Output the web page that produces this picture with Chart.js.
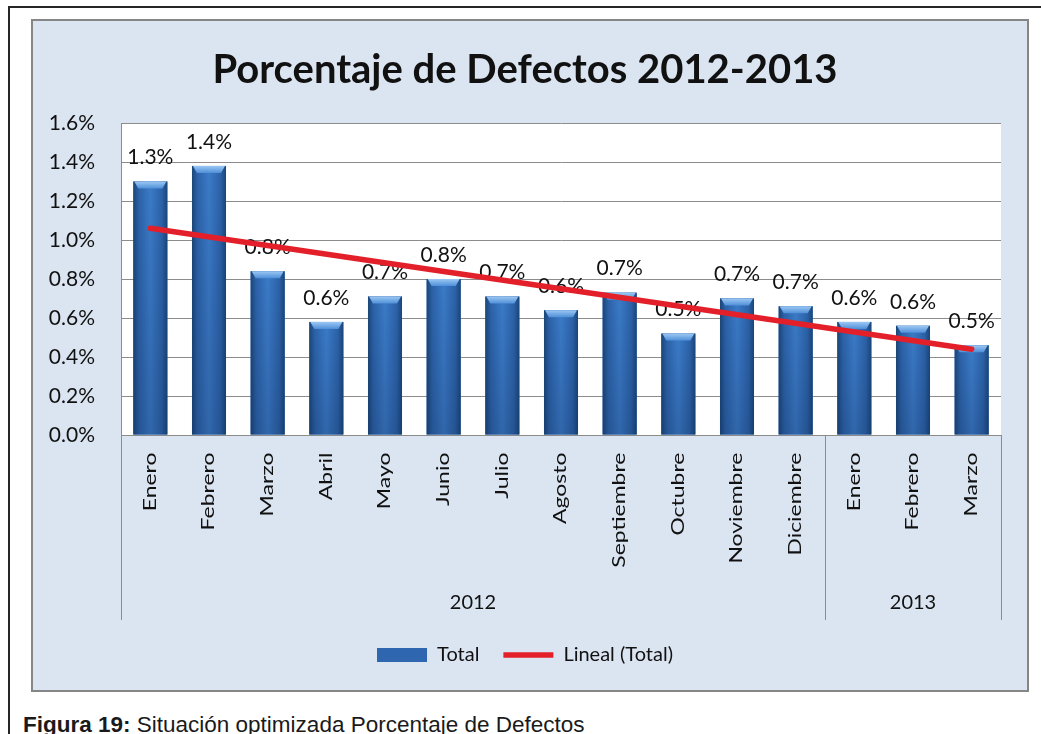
<!DOCTYPE html>
<html lang="es">
<head>
<meta charset="utf-8">
<title>Porcentaje de Defectos 2012-2013</title>
<script src="https://cdn.jsdelivr.net/npm/chart.js@4.4.1/dist/chart.umd.min.js"></script>
<style>
  html, body { margin: 0; padding: 0; background: #fff; }
  body { width: 1041px; height: 734px; position: relative; overflow: hidden; }
  .frame {
    position: absolute; left: 8px; top: 6px; width: 1100px; height: 800px;
    border-left: 2px solid #262626; border-top: 2px solid #262626;
  }
  .chart-box {
    position: absolute; left: 31px; top: 19px; width: 998px; height: 673px;
    box-sizing: border-box; border: 2px solid #868686; background: #dbe5f1;
  }
  .caption {
    position: absolute; left: 23px; top: 712px; line-height: 25px; color: #1a1a1a;
    font: 22.5px 'Liberation Sans', Arial, sans-serif; white-space: nowrap;
  }
</style>
</head>
<body>
<div class="frame"></div>
<div class="chart-box"><canvas id="defectos"></canvas></div>
<div class="caption"><b>Figura 19:</b> Situación optimizada Porcentaje de Defectos</div>

<script>
// Monthly defect percentage, Jan 2012 - Mar 2013
const months = ['Enero', 'Febrero', 'Marzo', 'Abril', 'Mayo', 'Junio', 'Julio', 'Agosto',
                'Septiembre', 'Octubre', 'Noviembre', 'Diciembre', 'Enero', 'Febrero', 'Marzo'];
const totals = [1.30, 1.38, 0.84, 0.58, 0.71, 0.80, 0.71, 0.64, 0.73, 0.52, 0.70, 0.66, 0.58, 0.56, 0.46];

// Year groups under the month labels
const yearLabels = ['2012', '2013'];
const yearSpans = [12, 3];

// Linear trend, value at first and last month
const trendEnds = [1.06, 0.44];

const yTicks = [0, 0.2, 0.4, 0.6, 0.8, 1.0, 1.2, 1.4, 1.6];

const trendData = months.map((m, i) =>
    i === 0 ? trendEnds[0] : (i === months.length - 1 ? trendEnds[1] : null));

const fmtPct = v => v.toFixed(1) + '%';

// White plot area on top of the blue chart background
const plotBackground = {
    id: 'plotBackground',
    beforeDraw(chart) {
        const { ctx, chartArea: a } = chart;
        ctx.save();
        ctx.fillStyle = '#ffffff';
        ctx.fillRect(a.left, a.top, a.right - a.left, a.bottom - a.top);
        ctx.restore();
    }
};

// Bevelled look for the bars, then their value labels (before the trend line is drawn)
const barShading = {
    id: 'barShading',
    afterDatasetDraw(chart, args) {
        if (args.index !== 0) return;
        const ctx = chart.ctx;
        const values = chart.data.datasets[0].data;
        args.meta.data.forEach((bar, i) => {
            const { x, y, base, width } = bar.getProps(['x', 'y', 'base', 'width'], true);
            const l = x - width / 2, r = x + width / 2;
            ctx.save();
            const g = ctx.createLinearGradient(l, 0, r, 0);
            g.addColorStop(0, '#1a4678');
            g.addColorStop(0.16, '#2c62a8');
            g.addColorStop(0.5, '#3b7bc8');
            g.addColorStop(0.84, '#2c62a8');
            g.addColorStop(1, '#1a4678');
            ctx.fillStyle = g;
            ctx.fillRect(l, y, width, base - y);

            const v = ctx.createLinearGradient(0, y, 0, base);
            v.addColorStop(0, 'rgba(10,30,70,0)');
            v.addColorStop(1, 'rgba(10,30,70,0.22)');
            ctx.fillStyle = v;
            ctx.fillRect(l, y, width, base - y);

            const cap = 7, inset = 5;
            ctx.beginPath();
            ctx.moveTo(l + 1, y);
            ctx.lineTo(r - 1, y);
            ctx.lineTo(r - inset, y + cap);
            ctx.lineTo(l + inset, y + cap);
            ctx.closePath();
            const c = ctx.createLinearGradient(0, y, 0, y + cap);
            c.addColorStop(0, '#9cc8f4');
            c.addColorStop(1, '#4f8fd8');
            ctx.fillStyle = c;
            ctx.fill();
            ctx.restore();
        });

        ctx.save();
        ctx.font = '21px Lato';
        ctx.fillStyle = '#111';
        ctx.textAlign = 'center';
        ctx.textBaseline = 'middle';
        args.meta.data.forEach((bar, i) => {
            const { x, y } = bar.getProps(['x', 'y'], true);
            ctx.fillText(fmtPct(values[i]), x, y - 24);
        });
        ctx.restore();
    }
};

// Month labels are drawn after the datasets (ticks z: 1); stretch them along their length
const tallMonths = {
    id: 'tallMonths',
    afterDatasetsDraw(chart) {
        const top = chart.scales.x.top;
        const ctx = chart.ctx;
        ctx.save();
        ctx.translate(0, top);
        ctx.scale(1, 1.35);
        ctx.translate(0, -top);
    },
    afterDraw(chart) {
        chart.ctx.restore();
    }
};

// Second category level: year names with separator lines
const yearGroups = {
    id: 'yearGroups',
    afterDraw(chart) {
        const xs = chart.scales.x;
        const ctx = chart.ctx;
        const top = xs.top, bottom = xs.top + 185;
        const edges = [xs.left];
        let idx = 0;
        yearSpans.forEach(n => {
            idx += n;
            edges.push(idx < months.length
                ? (xs.getPixelForValue(idx - 1) + xs.getPixelForValue(idx)) / 2
                : xs.right);
        });
        ctx.save();
        ctx.strokeStyle = '#8c8c8c';
        ctx.lineWidth = 1;
        edges.forEach(ex => {
            const px = Math.round(ex) + 0.5;
            ctx.beginPath();
            ctx.moveTo(px, top);
            ctx.lineTo(px, bottom);
            ctx.stroke();
        });
        ctx.font = '20px Lato';
        ctx.fillStyle = '#111';
        ctx.textAlign = 'center';
        ctx.textBaseline = 'middle';
        yearLabels.forEach((t, k) => ctx.fillText(t, (edges[k] + edges[k + 1]) / 2, top + 168));
        ctx.restore();
    }
};

Chart.defaults.font.family = 'Lato';
Chart.defaults.color = '#111';

new Chart(document.getElementById('defectos'), {
    data: {
        labels: months,
        datasets: [{
            type: 'bar',
            label: 'Total',
            data: totals,
            backgroundColor: '#2e67b0',
            borderColor: '#1b467f',
            borderWidth: 0,
            barPercentage: 0.58,
            categoryPercentage: 1,
            pointStyle: 'rect',
            order: 1
        }, {
            type: 'line',
            label: 'Lineal (Total)',
            data: trendData,
            borderColor: '#e3202a',
            backgroundColor: '#e3202a',
            borderWidth: 5.5,
            borderCapStyle: 'round',
            pointRadius: 0,
            pointStyle: 'line',
            spanGaps: true,
            fill: false,
            order: 0
        }]
    },
    options: {
        responsive: true,
        maintainAspectRatio: false,
        animation: false,
        layout: { padding: { left: 16, right: 26, top: 0, bottom: 15 } },
        plugins: {
            title: {
                display: true,
                text: 'Porcentaje de Defectos 2012-2013',
                color: '#111',
                font: { size: 40, weight: 'bold' },
                padding: { top: 25, bottom: 29 }
            },
            legend: {
                position: 'bottom',
                labels: {
                    usePointStyle: true,
                    pointStyleWidth: 50,
                    boxHeight: 14,
                    padding: 24,
                    color: '#111',
                    font: { size: 20 },
                    sort: (a, b) => a.datasetIndex - b.datasetIndex
                }
            },
            tooltip: { enabled: false }
        },
        scales: {
            x: {
                grid: { display: false },
                border: { display: true, color: '#8c8c8c' },
                ticks: {
                    autoSkip: false,
                    minRotation: 90,
                    maxRotation: 90,
                    padding: 5,
                    color: '#111',
                    font: { size: 17 },
                    z: 1
                },
                afterFit(scale) { scale.height = 186; }
            },
            y: {
                min: 0,
                max: 1.6,
                grid: { color: '#8c8c8c', drawTicks: false },
                border: { display: true, color: '#8c8c8c' },
                afterBuildTicks(scale) { scale.ticks = yTicks.map(v => ({ value: v })); },
                ticks: {
                    padding: 26,
                    color: '#111',
                    font: { size: 21 },
                    callback: v => fmtPct(v)
                },
                afterFit(scale) { scale.width = 72; }
            }
        }
    },
    plugins: [plotBackground, barShading, tallMonths, yearGroups]
});
</script>
</body>
</html>
